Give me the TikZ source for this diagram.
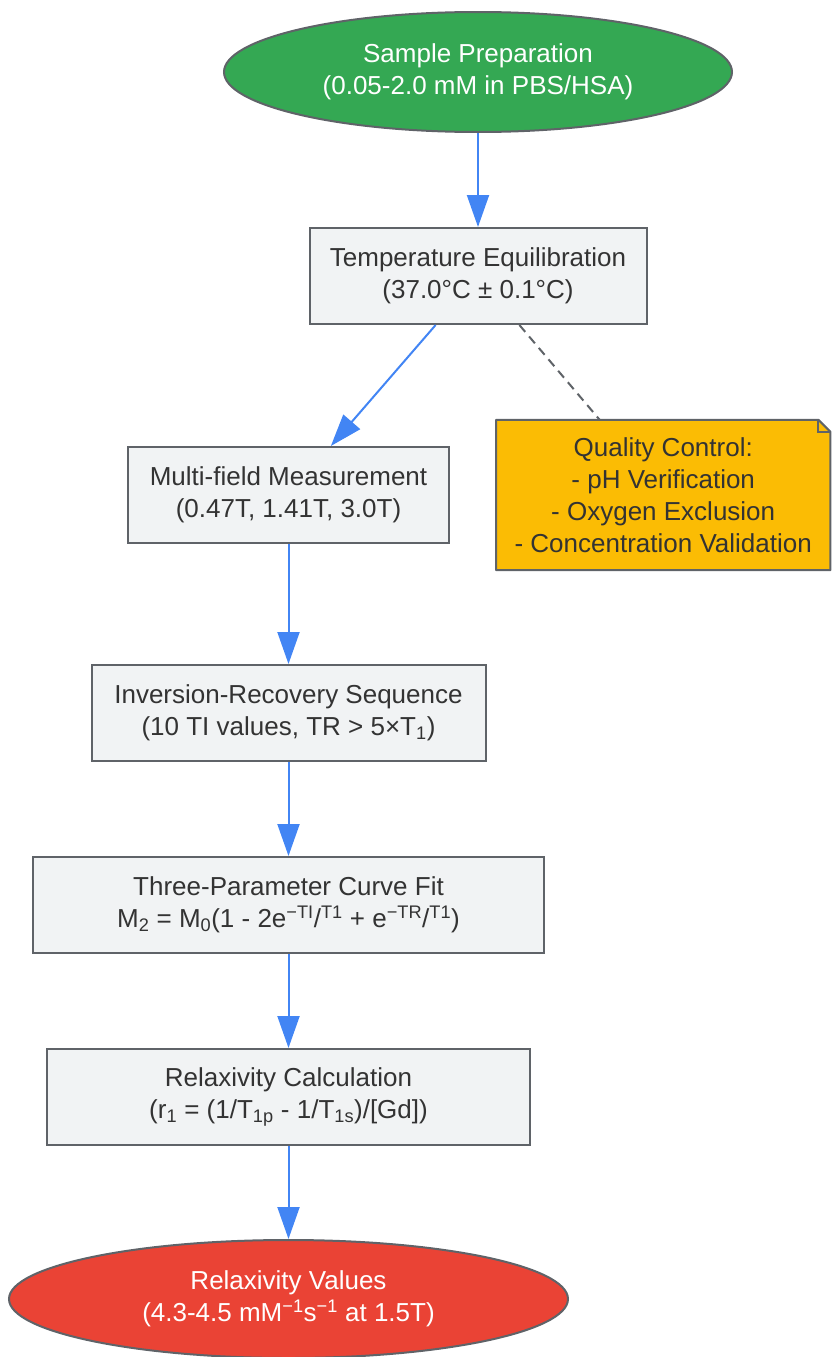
\documentclass[tikz,border=0pt]{standalone}
\usepackage{fontspec}
\setmainfont{Liberation Sans}
\usetikzlibrary{shapes.geometric,arrows.meta,positioning}

\definecolor{startgreen}{HTML}{34A853}
\definecolor{endred}{HTML}{EA4335}
\definecolor{noteyellow}{HTML}{FBBC04}
\definecolor{boxgray}{HTML}{F1F3F4}
\definecolor{edgegray}{HTML}{5F6368}
\definecolor{flowblue}{HTML}{4285F4}
\definecolor{textdark}{HTML}{333333}

\begin{document}
\begin{tikzpicture}[x=1pt, y=-1pt,
	every node/.style={font=\fontsize{26}{32}\selectfont, align=center},
	stepbox/.style={rectangle, draw=edgegray, line width=2pt, fill=boxgray,
		text=textdark, minimum height=96pt, inner sep=0pt},
	terminal/.style={ellipse, draw=edgegray, line width=2pt, text=white, inner sep=0pt},
	flow/.style={draw=flowblue, line width=2pt, -{Triangle[length=32pt,width=22pt]}},
	note/.style={rectangle, text=textdark, minimum width=334pt, minimum height=150pt, inner sep=0pt}]
	\useasboundingbox (0,0) rectangle (832,1357);

		% Draw the steps
        	\node[terminal, fill=startgreen, minimum width=508pt, minimum height=120pt] (sample) at (478,72)
			{Sample Preparation\\(0.05-2.0 mM in PBS/HSA)};
        	\node[stepbox, minimum width=337pt, below=94pt of sample] (temp)
			{Temperature Equilibration\\(37.0°C ± 0.1°C)};
        	\node[stepbox, minimum width=321pt] (multi) at (288.5,495)
			{Multi-field Measurement\\(0.47T, 1.41T, 3.0T)};
        	\node[note, right=46pt of multi] (qc)
			{Quality Control:\\- pH Verification\\- Oxygen Exclusion\\- Concentration Validation};
        	\node[stepbox, minimum width=394pt, below=120pt of multi] (inv)
			{Inversion-Recovery Sequence\\(10 TI values, TR > 5×T\textsubscript{1})};
        	\node[stepbox, minimum width=511pt, below=94pt of inv] (fit)
			{Three-Parameter Curve Fit\\M\textsubscript{2} = M\textsubscript{0}(1 - 2e\textsuperscript{−TI}/\textsuperscript{T1} + e\textsuperscript{−TR}/\textsuperscript{T1})};
        	\node[stepbox, minimum width=483pt, below=94pt of fit] (calc)
			{Relaxivity Calculation\\(r\textsubscript{1} = (1/T\textsubscript{1p} - 1/T\textsubscript{1s})/[Gd])};
        	\node[terminal, fill=endred, minimum width=559pt, minimum height=118pt, below=93pt of calc] (result)
			{Relaxivity Values\\(4.3-4.5 mM\textsuperscript{−1}s\textsuperscript{−1} at 1.5T)};

		% Note outline with folded corner
		\filldraw[fill=noteyellow, draw=edgegray, line width=2pt, line join=round]
			([xshift=-12pt]qc.north east) -- (qc.north west) -- (qc.south west)
			-- (qc.south east) -- ([yshift=-12pt]qc.north east) -- cycle;
		\draw[edgegray, line width=2pt]
			([xshift=-12pt]qc.north east) |- ([yshift=-12pt]qc.north east);
		\node[note] at (qc) {Quality Control:\\- pH Verification\\- Oxygen Exclusion\\- Concentration Validation};

        	% Connect the steps with arrows
        	\draw[flow] (sample) -- (temp);
        	\draw[flow] (temp) -- (multi);
        	\draw[edgegray, line width=2pt, dash pattern=on 9pt off 6pt] (temp) -- (qc);
        	\draw[flow] (multi) -- (inv);
        	\draw[flow] (inv) -- (fit);
        	\draw[flow] (fit) -- (calc);
        	\draw[flow] (calc) -- (result);
	\end{tikzpicture}
\end{document}
